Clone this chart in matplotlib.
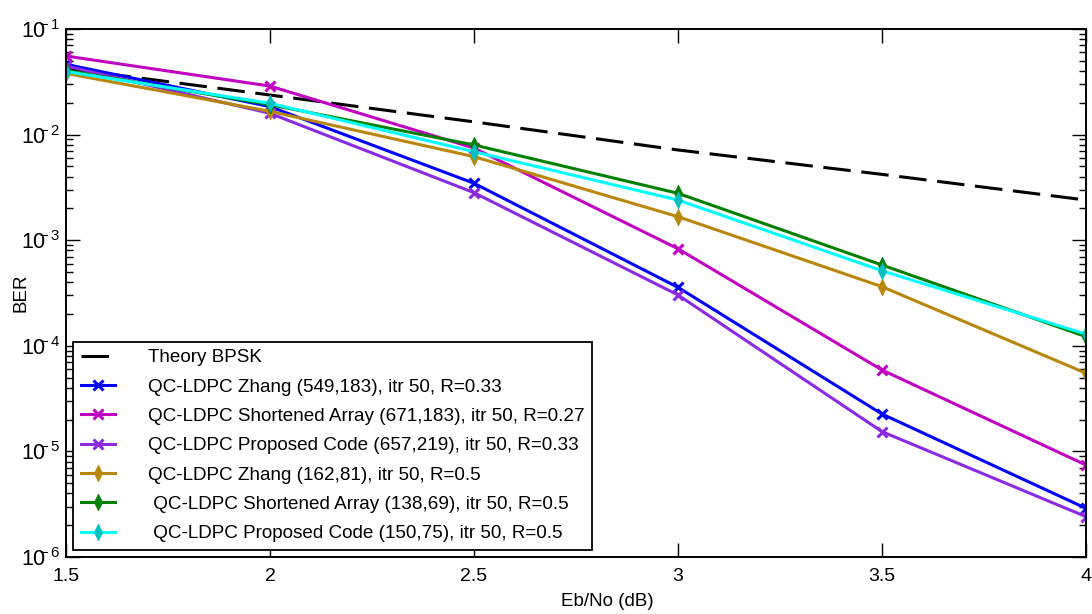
import numpy as np
import matplotlib
matplotlib.use('Agg')
import matplotlib.pyplot as plt
from matplotlib.ticker import FixedLocator, FuncFormatter

plt.rcParams['font.family'] = ['Liberation Sans', 'DejaVu Sans']
plt.rcParams['mathtext.fontset'] = 'custom'
plt.rcParams['mathtext.rm'] = 'Liberation Sans'
plt.rcParams['mathtext.it'] = 'Liberation Sans'

# Eb/No points (dB)
ebno = [1.5, 2.0, 2.5, 3.0, 3.5, 4.0]

# BER values
ber_theory = [0.0424, 0.0237, 0.0132, 0.00715, 0.0042, 0.0024]
ber_zhang_549 = [0.0463, 0.0184, 0.00346, 0.000358, 2.26e-5, 2.89e-6]
ber_short_671 = [0.0555, 0.0288, 0.00746, 0.00083, 5.9e-5, 7.43e-6]
ber_prop_657 = [0.0446, 0.0159, 0.00282, 0.000303, 1.54e-5, 2.41e-6]
ber_zhang_162 = [0.0380, 0.0166, 0.00618, 0.00167, 3.63e-4, 5.5e-5]
ber_short_138 = [0.0405, 0.0192, 0.00798, 0.00278, 5.82e-4, 1.22e-4]
ber_prop_150 = [0.0395, 0.0198, 0.00689, 0.00240, 5.14e-4, 1.29e-4]

labels = ['Theory BPSK',
          'QC-LDPC Zhang (549,183), itr 50, R=0.33',
          'QC-LDPC Shortened Array (671,183), itr 50, R=0.27',
          'QC-LDPC Proposed Code (657,219), itr 50, R=0.33',
          'QC-LDPC Zhang (162,81), itr 50, R=0.5',
          ' QC-LDPC Shortened Array (138,69), itr 50, R=0.5',
          ' QC-LDPC Proposed Code (150,75), itr 50, R=0.5']

# tall narrow diamond like the original marker
diamond = [(0, 1), (0.5, 0), (0, -1), (-0.5, 0), (0, 1)]

fig = plt.figure(figsize=(10.92, 6.14), dpi=100)
ax = fig.add_axes([0.0604, 0.0928, 0.9341, 0.86])

lw = 2.2
ax.plot(ebno, ber_theory, color='black', lw=lw, dashes=(9, 3.5), label=labels[0])
ax.plot(ebno, ber_zhang_549, color='#0000FF', lw=lw, marker='x', ms=7, mew=2.2, label=labels[1])
ax.plot(ebno, ber_short_671, color='#C000C0', lw=lw, marker='x', ms=7, mew=2.2, label=labels[2])
ax.plot(ebno, ber_prop_657, color='#8A2BE2', lw=lw, marker='x', ms=7, mew=2.2, label=labels[3])
ax.plot(ebno, ber_zhang_162, color='#B8860B', lw=lw, marker=diamond, ms=12, mew=0.5,
        mfc='#B8860B', label=labels[4])
ax.plot(ebno, ber_short_138, color='#008000', lw=lw, marker=diamond, ms=12, mew=0.5,
        mfc='#008000', label=labels[5])
ax.plot(ebno, ber_prop_150, color='#00FFFF', lw=lw, marker=diamond, ms=12, mew=0.5,
        mfc='#00BFBF', mec='#00BFBF', label=labels[6])

ax.set_yscale('log')
ax.set_xlim(1.5, 4)
ax.set_ylim(1e-6, 1e-1)
ax.set_xticks([1.5, 2, 2.5, 3, 3.5, 4])
ax.set_xticklabels(['1.5', '2', '2.5', '3', '3.5', '4'])
ax.yaxis.set_major_locator(FixedLocator([1e-6, 1e-5, 1e-4, 1e-3, 1e-2, 1e-1]))
ax.yaxis.set_major_formatter(FuncFormatter(
    lambda v, p: r'$10^{\!\!\!\!%d}$' % int(round(np.log10(v)))))
ax.tick_params(which='both', direction='in', top=True, right=True, labelsize=14)
ax.tick_params(axis='y', labelsize=15.5, pad=4)
ax.tick_params(which='major', length=10, width=1)
ax.tick_params(which='minor', length=5, width=1)
ax.tick_params(axis='x', pad=8)
for sp in ax.spines.values():
    sp.set_linewidth(1.4)

ax.set_xlabel('Eb/No (dB)', fontsize=13.5)
ax.set_ylabel('BER', fontsize=13.5)
ax.xaxis.set_label_coords(0.531, -0.068)
ax.yaxis.set_label_coords(-0.036, 0.5)

leg = ax.legend(loc='lower left', fontsize=13.6, handlelength=1.8, handletextpad=1.75,
                borderaxespad=0.38, fancybox=False, edgecolor='black', framealpha=1,
                labelspacing=0.64, borderpad=0.4)
leg.get_frame().set_linewidth(1.3)

fig.savefig('out.png', dpi=100)
